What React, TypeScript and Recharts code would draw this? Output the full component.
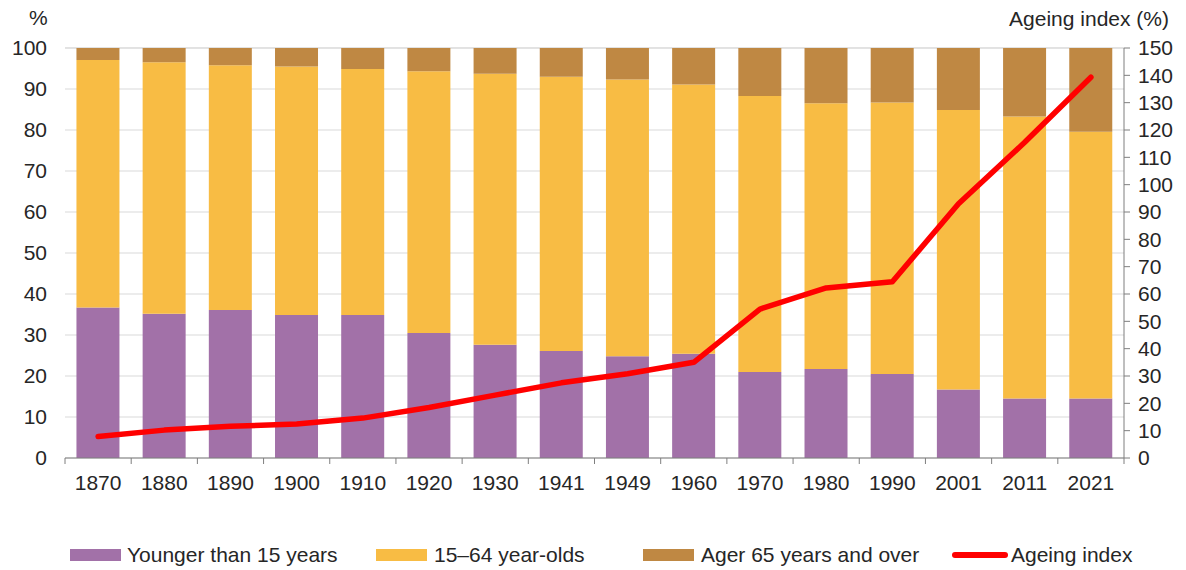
import React from 'react';
import {
  ComposedChart,
  Bar,
  Line,
  XAxis,
  YAxis,
  CartesianGrid,
  Legend,
  Customized,
} from 'recharts';

// ---------- data ----------
const years = ['1870', '1880', '1890', '1900', '1910', '1920', '1930', '1941', '1949', '1960', '1970', '1980', '1990', '2001', '2011', '2021'];
const youngerThan15 = [36.7, 35.2, 36.1, 34.9, 34.9, 30.5, 27.6, 26.1, 24.8, 25.4, 21.0, 21.7, 20.5, 16.7, 14.5, 14.5];
const aged15to64 = [60.4, 61.3, 59.7, 60.6, 60.0, 63.8, 66.1, 66.9, 67.5, 65.7, 67.3, 64.8, 66.2, 68.2, 68.8, 65.1];
const aged65Plus = [2.9, 3.5, 4.2, 4.5, 5.1, 5.7, 6.3, 7.0, 7.7, 8.9, 11.7, 13.5, 13.3, 15.1, 16.7, 20.4];
const ageingIndex = [7.9, 10.2, 11.6, 12.4, 14.6, 18.5, 23.0, 27.5, 30.8, 35.0, 54.5, 62.2, 64.5, 93.0, 115.5, 139.3];
const leftTicks = [0, 10, 20, 30, 40, 50, 60, 70, 80, 90, 100];
const rightTicks = [0, 10, 20, 30, 40, 50, 60, 70, 80, 90, 100, 110, 120, 130, 140, 150];
const seriesLabels = ['Younger than 15 years', '15–64 year-olds', 'Ager 65 years and over', 'Ageing index'];
const leftUnit = '%';
const rightTitle = 'Ageing index (%)';

const data = years.map((year, i) => ({
  year,
  young: youngerThan15[i],
  mid: aged15to64[i],
  old: aged65Plus[i],
  ageing: ageingIndex[i],
}));

// ---------- styles / layout ----------
const W = 1186;
const H = 570;
const FONT = '"Liberation Sans", Arial, Helvetica, sans-serif';
const FONT_SIZE = 21;
const TEXT = '#262626';
const AXIS = '#7f7f7f';
const GRID = '#d9d9d9';
const C_YOUNG = '#a271a8';
const C_MID = '#f8bc44';
const C_OLD = '#bf8843';
const C_LINE = '#ff0000';

const LEFT_AXIS_W = 65;
const RIGHT_AXIS_W = 62;
const TOP = 48;
const X_AXIS_H = 88;
const LEGEND_H = 24;
const PLOT_W = W - LEFT_AXIS_W - RIGHT_AXIS_W;
const BAND = PLOT_W / years.length;
const TICK_SIZE = 6;
const X_TICK_MARGIN = 11;

const XTick = (props: any) => {
  const { x, y, payload, index } = props;
  const axisY = y - TICK_SIZE - X_TICK_MARGIN;
  const half = BAND / 2;
  return (
    <g>
      <line x1={x - half} x2={x - half} y1={axisY} y2={axisY + TICK_SIZE} stroke={AXIS} strokeWidth={1} />
      {index === years.length - 1 && (
        <line x1={x + half} x2={x + half} y1={axisY} y2={axisY + TICK_SIZE} stroke={AXIS} strokeWidth={1} />
      )}
      <text x={x} y={y} dy="0.71em" textAnchor="middle" fill={TEXT} fontSize={FONT_SIZE} fontFamily={FONT}>
        {payload.value}
      </text>
    </g>
  );
};

const legendItems = [
  { label: seriesLabels[0], color: C_YOUNG, kind: 'rect', left: 70, gap: 6 },
  { label: seriesLabels[1], color: C_MID, kind: 'rect', left: 376, gap: 7 },
  { label: seriesLabels[2], color: C_OLD, kind: 'rect', left: 643, gap: 7 },
  { label: seriesLabels[3], color: C_LINE, kind: 'line', left: 952, gap: 3 },
];

const LegendContent = () => (
  <div style={{ position: 'relative', width: W, height: LEGEND_H }}>
    {legendItems.map((it) => (
      <div
        key={it.label}
        style={{
          position: 'absolute',
          left: it.left,
          top: 0,
          height: LEGEND_H,
          display: 'flex',
          alignItems: 'center',
          whiteSpace: 'nowrap',
        }}
      >
        <div
          style={{
            width: it.kind === 'rect' ? 51 : 56,
            height: it.kind === 'rect' ? 12 : 6,
            borderRadius: it.kind === 'rect' ? 0 : 3,
            background: it.color,
            marginRight: it.gap,
          }}
        />
        <span style={{ fontFamily: FONT, fontSize: FONT_SIZE, color: TEXT, lineHeight: `${LEGEND_H}px` }}>
          {it.label}
        </span>
      </div>
    ))}
  </div>
);

const Titles = () => (
  <g>
    <text x={29} y={25} fill={TEXT} fontSize={FONT_SIZE} fontFamily={FONT}>
      {leftUnit}
    </text>
    <text x={1169} y={26} textAnchor="end" fill={TEXT} fontSize={FONT_SIZE} fontFamily={FONT}>
      {rightTitle}
    </text>
  </g>
);

export default function App() {
  return (
    <div style={{ position: 'absolute', left: 0, top: 0, width: W, height: H, background: '#fff' }}>
      <ComposedChart
        width={W}
        height={H}
        data={data}
        margin={{ top: TOP, right: 0, bottom: 0, left: 0 }}
        barCategoryGap="17.3%"
      >
        <CartesianGrid yAxisId="left" vertical={false} stroke={GRID} strokeWidth={1} />
        <XAxis
          dataKey="year"
          height={X_AXIS_H}
          axisLine={{ stroke: AXIS, strokeWidth: 1 }}
          tickLine={false}
          tickSize={TICK_SIZE}
          tickMargin={X_TICK_MARGIN}
          interval={0}
          tick={<XTick />}
        />
        <YAxis
          yAxisId="left"
          orientation="left"
          width={LEFT_AXIS_W}
          domain={[0, 100]}
          ticks={leftTicks}
          interval={0}
          axisLine={false}
          tickLine={false}
          tickSize={TICK_SIZE}
          tickMargin={12}
          tick={{ fill: TEXT, fontSize: FONT_SIZE, fontFamily: FONT }}
        />
        <YAxis
          yAxisId="right"
          orientation="right"
          width={RIGHT_AXIS_W}
          domain={[0, 150]}
          ticks={rightTicks}
          interval={0}
          axisLine={{ stroke: AXIS, strokeWidth: 1 }}
          tickLine={{ stroke: AXIS, strokeWidth: 1 }}
          tickSize={TICK_SIZE}
          tickMargin={8}
          tick={{ fill: TEXT, fontSize: FONT_SIZE, fontFamily: FONT }}
        />
        <Bar yAxisId="left" dataKey="young" stackId="a" fill={C_YOUNG} name={seriesLabels[0]} isAnimationActive={false} />
        <Bar yAxisId="left" dataKey="mid" stackId="a" fill={C_MID} name={seriesLabels[1]} isAnimationActive={false} />
        <Bar yAxisId="left" dataKey="old" stackId="a" fill={C_OLD} name={seriesLabels[2]} isAnimationActive={false} />
        <Line
          yAxisId="right"
          type="linear"
          dataKey="ageing"
          stroke={C_LINE}
          strokeWidth={5.5}
          strokeLinecap="round"
          strokeLinejoin="round"
          dot={false}
          activeDot={false}
          name={seriesLabels[3]}
          isAnimationActive={false}
        />
        <Legend
          verticalAlign="bottom"
          height={LEGEND_H}
          content={<LegendContent />}
          wrapperStyle={{ position: 'absolute', left: 0, top: 543, width: W, height: LEGEND_H, margin: 0, padding: 0 }}
        />
        <Customized component={Titles} />
      </ComposedChart>
    </div>
  );
}
